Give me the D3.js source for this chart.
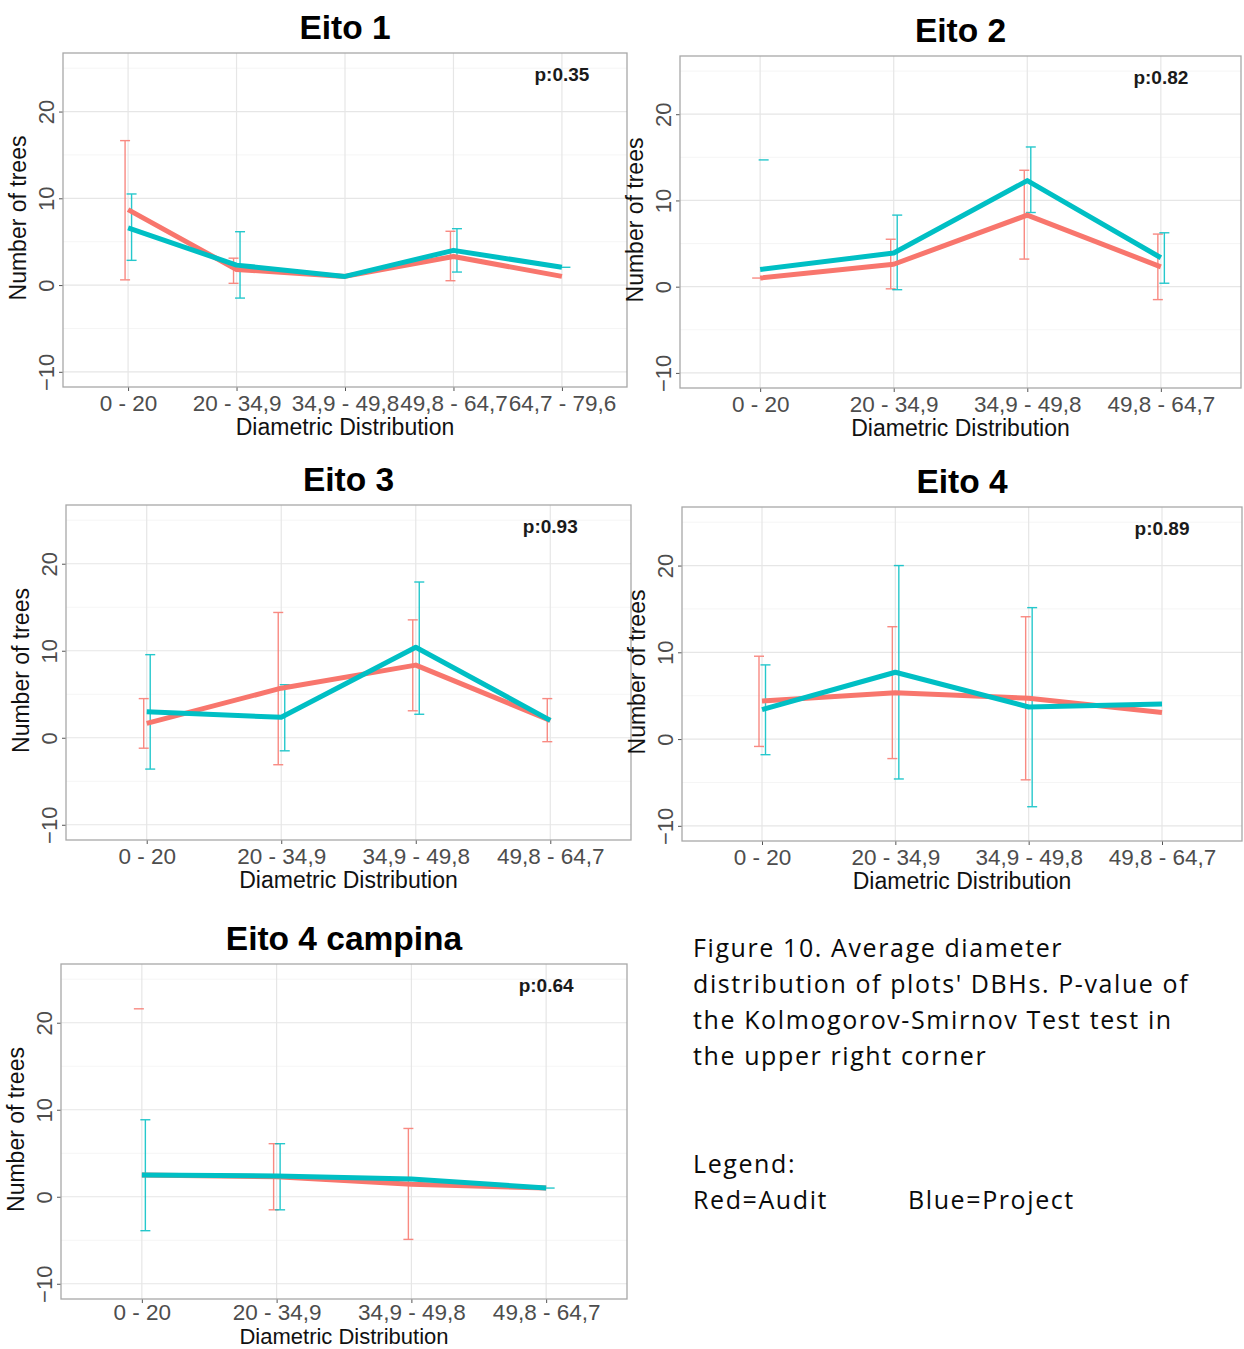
<!DOCTYPE html>
<html>
<head>
<meta charset="utf-8">
<script src="https://cdn.jsdelivr.net/npm/d3@7"></script>
<style>
  body { margin: 0; background: #fff; }
  svg { display: block; }
  .caption { font-family: "Open Sans", sans-serif; font-size: 25px; fill: #0a0a0a; letter-spacing: 1.6px; }
</style>
</head>
<body>
<div id="plot"></div>
<script>
// categories
const cats5 = ["0 - 20", "20 - 34,9", "34,9 - 49,8", "49,8 - 64,7", "64,7 - 79,6"];
const cats4 = cats5.slice(0, 4);

const titles = ["Eito 1", "Eito 2", "Eito 3", "Eito 4", "Eito 4 campina"];
const pValues = ["p:0.35", "p:0.82", "p:0.93", "p:0.89", "p:0.64"];

// [mean, lower, upper] per category; null = no error bar drawn
const eito1Audit   = [[8.7, 0.6, 16.65], [1.8, 0.2, 3.1], [1.0, null, null], [3.3, 0.5, 6.2], [1.0, null, null]];
const eito1Project = [[6.6, 2.85, 10.5], [2.3, -1.5, 6.15], [1.0, null, null], [4.0, 1.5, 6.5], [2.05, 2.05, 2.05]];

const eito2Audit   = [[1.0, 1.0, 1.0], [2.6, -0.25, 5.5], [8.3, 3.2, 13.5], [2.3, -1.5, 6.1]];
const eito2Project = [[2.0, null, 14.7], [3.9, -0.35, 8.3], [12.3, 8.6, 16.2], [3.35, 0.4, 6.25]];

const eito3Audit   = [[1.65, -1.2, 4.5], [5.7, -3.1, 14.4], [8.35, 3.1, 13.55], [2.0, -0.45, 4.5]];
const eito3Project = [[3.0, -3.6, 9.55], [2.35, -1.5, 6.1], [10.4, 2.7, 17.9], [2.0, null, null]];

const eito4Audit   = [[4.4, -0.85, 9.55], [5.35, -2.25, 12.95], [4.7, -4.7, 14.1], [3.05, null, null]];
const eito4Project = [[3.4, -1.8, 8.55], [7.7, -4.6, 20.0], [3.7, -7.8, 15.15], [4.05, null, null]];

const eito5Audit   = [[2.5, null, 21.6], [2.3, -1.5, 6.1], [1.45, -4.9, 7.85], [1.0, null, null]];
const eito5Project = [[2.5, -3.9, 8.85], [2.4, -1.5, 6.1], [2.05, null, null], [1.0, 1.0, 1.0]];

const yTicks = [-10, 0, 10, 20];
const yMinor = [-5, 5, 15, 25];
const yDomain = [-11.75, 26.75];

const auditColor = "#F8766D";
const projectColor = "#00BFC4";
const axisFont = "'Liberation Sans', Arial, sans-serif";

const panels = [
  { cats: cats5, audit: eito1Audit, project: eito1Project, left: 63,  top: 53,  right: 627,  bottom: 387,  pad: 4, xTitle: 48, xSize: 23 },
  { cats: cats4, audit: eito2Audit, project: eito2Project, left: 680, top: 56,  right: 1241, bottom: 388,  pad: 4, xTitle: 48, xSize: 23 },
  { cats: cats4, audit: eito3Audit, project: eito3Project, left: 66,  top: 505, right: 631,  bottom: 840,  pad: 4, xTitle: 48, xSize: 23 },
  { cats: cats4, audit: eito4Audit, project: eito4Project, left: 682, top: 507, right: 1242, bottom: 841,  pad: 4, xTitle: 48, xSize: 23 },
  { cats: cats4, audit: eito5Audit, project: eito5Project, left: 61,  top: 964, right: 627,  bottom: 1299, pad: 1, xTitle: 45, xSize: 22 }
];

const svg = d3.select("#plot").append("svg")
  .attr("width", 1244)
  .attr("height", 1349);

panels.forEach(function(p, i) {
  const w = p.right - p.left;
  const h = p.bottom - p.top;
  const g = svg.append("g").attr("transform", `translate(${p.left},${p.top})`);

  const x = d3.scalePoint().domain(p.cats).range([0, w]).padding(0.6);
  const y = d3.scaleLinear().domain(yDomain).range([h, 0]);

  // grid
  g.selectAll(".minor").data(yMinor).enter().append("line")
    .attr("x1", 0).attr("x2", w)
    .attr("y1", d => y(d)).attr("y2", d => y(d))
    .attr("stroke", "#f2f2f2").attr("stroke-width", 0.8);
  g.selectAll(".major").data(yTicks).enter().append("line")
    .attr("x1", 0).attr("x2", w)
    .attr("y1", d => y(d)).attr("y2", d => y(d))
    .attr("stroke", "#e6e6e6").attr("stroke-width", 1.2);
  g.selectAll(".vgrid").data(p.cats).enter().append("line")
    .attr("x1", d => x(d)).attr("x2", d => x(d))
    .attr("y1", 0).attr("y2", h)
    .attr("stroke", "#e6e6e6").attr("stroke-width", 1.2);

  // axes
  const xAxis = g.append("g")
    .attr("transform", `translate(0,${h})`)
    .call(d3.axisBottom(x).tickSize(4).tickPadding(p.pad));
  xAxis.select(".domain").remove();
  xAxis.selectAll("line").attr("stroke", "#555");
  xAxis.selectAll("text")
    .attr("fill", "#4d4d4d")
    .style("font-family", axisFont)
    .style("font-size", "22.5px");

  const yAxis = g.append("g")
    .call(d3.axisLeft(y).tickValues(yTicks).tickSize(4));
  yAxis.select(".domain").remove();
  yAxis.selectAll("line").attr("stroke", "#555");
  yAxis.selectAll("text")
    .attr("transform", "rotate(-90)")
    .attr("x", 0).attr("y", -9).attr("dy", 0)
    .attr("fill", "#4d4d4d")
    .style("text-anchor", "middle")
    .style("font-family", axisFont)
    .style("font-size", "22px");

  // error bars
  const dodge = { audit: -3, project: 3.5 };
  const capW = 5;
  [["audit", auditColor], ["project", projectColor]].forEach(function(s) {
    const key = s[0], col = s[1];
    const rows = p[key].map((d, j) => ({ cat: p.cats[j], mean: d[0], lo: d[1], hi: d[2] }));
    const eg = g.append("g").attr("stroke", col).attr("stroke-width", 1.4).attr("opacity", 0.85);
    rows.forEach(function(r) {
      const cx = x(r.cat) + dodge[key];
      if (r.lo !== null && r.hi !== null && r.lo !== r.hi) {
        eg.append("line").attr("x1", cx).attr("x2", cx).attr("y1", y(r.lo)).attr("y2", y(r.hi));
      }
      [r.lo, r.hi].forEach(function(v, k) {
        if (v === null) return;
        if (k === 1 && r.lo === r.hi) return;
        eg.append("line").attr("x1", cx - capW).attr("x2", cx + capW).attr("y1", y(v)).attr("y2", y(v));
      });
    });
  });

  // mean lines, project drawn on top
  const line = d3.line().x(d => x(d.cat)).y(d => y(d.mean));
  [["audit", auditColor], ["project", projectColor]].forEach(function(s) {
    const rows = p[s[0]].map((d, j) => ({ cat: p.cats[j], mean: d[0] }));
    g.append("path").datum(rows)
      .attr("d", line)
      .attr("fill", "none")
      .attr("stroke", s[1])
      .attr("stroke-width", 5)
      .attr("stroke-linejoin", "round");
  });

  // border
  g.append("rect").attr("width", w).attr("height", h)
    .attr("fill", "none").attr("stroke", "#a8a8a8").attr("stroke-width", 1.3);

  // p-value
  g.append("text")
    .attr("x", x(p.cats[p.cats.length - 1]))
    .attr("y", y(24.2) + 6)
    .attr("text-anchor", "middle")
    .style("font-family", axisFont)
    .style("font-size", "19px")
    .style("font-weight", "bold")
    .attr("fill", "#1a1a1a")
    .text(pValues[i]);

  // titles
  g.append("text")
    .attr("x", w / 2).attr("y", -14)
    .attr("text-anchor", "middle")
    .style("font-family", axisFont)
    .style("font-size", "33.5px")
    .style("font-weight", "bold")
    .text(titles[i]);

  g.append("text")
    .attr("x", w / 2).attr("y", h + p.xTitle)
    .attr("text-anchor", "middle")
    .style("font-family", axisFont)
    .style("font-size", p.xSize + "px")
    .attr("fill", "#111")
    .text("Diametric Distribution");

  g.append("text")
    .attr("transform", `translate(-37,${h / 2 - 2}) rotate(-90)`)
    .attr("text-anchor", "middle")
    .style("font-family", axisFont)
    .style("font-size", "23px")
    .attr("fill", "#111")
    .text("Number of trees");
});

// caption
const captionLines = ["Figure 10. Average diameter", "distribution of plots' DBHs. P-value of",
  "the Kolmogorov-Smirnov Test test in", "the upper right corner"];
svg.selectAll(".cap").data(captionLines).enter().append("text")
  .attr("class", "caption")
  .attr("x", 693)
  .attr("y", (d, i) => 957 + i * 36)
  .text(d => d);

svg.append("text").attr("class", "caption").attr("x", 693).attr("y", 1173).text("Legend:");
svg.append("text").attr("class", "caption").attr("x", 693).attr("y", 1209).text("Red=Audit");
svg.append("text").attr("class", "caption").attr("x", 908).attr("y", 1209).text("Blue=Project");
</script>
</body>
</html>
